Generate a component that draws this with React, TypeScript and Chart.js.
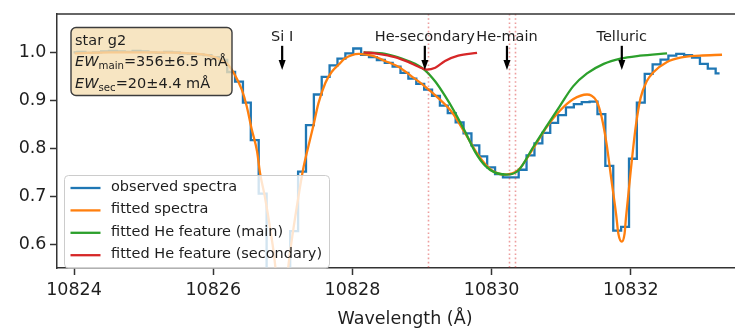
import React, { useEffect, useRef } from 'react';
import { Chart, registerables } from 'chart.js';
Chart.register(...registerables);

// ---------- data ----------
const obsWave = [
  10823.993, 10824.106, 10824.219, 10824.332, 10824.446, 10824.559, 10824.672, 10824.785, 10824.898, 10825.012,
  10825.125, 10825.238, 10825.351, 10825.464, 10825.578, 10825.691, 10825.804, 10825.917, 10826.030, 10826.144,
  10826.257, 10826.370, 10826.483, 10826.596, 10826.710, 10826.823, 10826.936, 10827.049, 10827.162, 10827.276,
  10827.389, 10827.502, 10827.615, 10827.728, 10827.842, 10827.955, 10828.068, 10828.181, 10828.294, 10828.408,
  10828.521, 10828.634, 10828.747, 10828.860, 10828.974, 10829.087, 10829.200, 10829.313, 10829.426, 10829.540,
  10829.653, 10829.766, 10829.879, 10829.992, 10830.106, 10830.219, 10830.332, 10830.445, 10830.558, 10830.672,
  10830.785, 10830.898, 10831.011, 10831.124, 10831.238, 10831.351, 10831.464, 10831.577, 10831.690, 10831.804,
  10831.917, 10832.030, 10832.143, 10832.256, 10832.370, 10832.483, 10832.596, 10832.709, 10832.822, 10832.936,
  10833.049, 10833.162, 10833.275,
];
const obsFlux = [
  1.000, 1.001, 0.999, 1.000, 1.002, 1.003, 1.002, 1.001, 1.003, 1.002,
  1.000, 0.999, 1.001, 1.000, 0.998, 0.997, 0.996, 0.994, 0.990, 0.984,
  0.959, 0.939, 0.895, 0.817, 0.705, 0.530, 0.420, 0.430, 0.627, 0.751,
  0.848, 0.912, 0.949, 0.973, 0.987, 0.998, 1.008, 0.995, 0.990, 0.984,
  0.978, 0.970, 0.957, 0.945, 0.934, 0.922, 0.909, 0.889, 0.873, 0.854,
  0.831, 0.806, 0.783, 0.760, 0.746, 0.739, 0.739, 0.755, 0.785, 0.810,
  0.832, 0.853, 0.869, 0.885, 0.892, 0.896, 0.897, 0.871, 0.763, 0.628,
  0.636, 0.778, 0.895, 0.955, 0.975, 0.985, 0.993, 0.997, 0.994, 0.989,
  0.976, 0.966, 0.956,
];

const fitWave = [
  10824.01, 10824.52, 10825.09, 10825.67, 10825.95, 10826.10, 10826.22, 10826.31, 10826.41, 10826.48,
  10826.55, 10826.63, 10826.67, 10826.74, 10826.82, 10826.89, 10826.93, 10826.98, 10827.03, 10827.08,
  10827.15, 10827.22, 10827.29, 10827.36, 10827.44, 10827.51, 10827.61, 10827.70, 10827.82, 10827.89,
  10828.09, 10828.28, 10828.47, 10828.66, 10828.85, 10829.04, 10829.23, 10829.43, 10829.62, 10829.81,
  10830.00, 10830.19, 10830.38, 10830.60, 10830.79, 10830.98, 10831.17, 10831.37, 10831.43, 10831.51,
  10831.58, 10831.65, 10831.72, 10831.79, 10831.82, 10831.87, 10831.91, 10831.93, 10832.00, 10832.07,
  10832.14, 10832.23, 10832.32, 10832.52, 10832.71, 10832.99, 10833.31,
];
const fitFlux = [
  0.998, 1.000, 1.000, 0.998, 0.993, 0.985, 0.973, 0.953, 0.922, 0.888,
  0.841, 0.793, 0.750, 0.700, 0.630, 0.555, 0.480, 0.430, 0.480, 0.555,
  0.630, 0.695, 0.755, 0.800, 0.848, 0.893, 0.936, 0.959, 0.977, 0.987,
  0.997, 0.993, 0.982, 0.970, 0.950, 0.929, 0.905, 0.875, 0.831, 0.785,
  0.754, 0.745, 0.754, 0.800, 0.844, 0.878, 0.902, 0.912, 0.910, 0.898,
  0.865, 0.810, 0.735, 0.660, 0.622, 0.605, 0.622, 0.655, 0.755, 0.845,
  0.905, 0.940, 0.958, 0.980, 0.989, 0.993, 0.995,
];

const heMainWave = [
  10828.16, 10828.47, 10828.71, 10828.90, 10829.04, 10829.19, 10829.33, 10829.47, 10829.62, 10829.76,
  10829.91, 10830.05, 10830.22, 10830.38, 10830.60, 10830.79, 10830.98, 10831.17, 10831.37, 10831.61,
  10831.85, 10832.13, 10832.52,
];
const heMainFlux = [
  1.000, 0.997, 0.987, 0.976, 0.963, 0.939, 0.909, 0.875, 0.834, 0.793,
  0.763, 0.749, 0.745, 0.753, 0.803, 0.846, 0.888, 0.929, 0.956, 0.976,
  0.987, 0.993, 0.998,
];

const heSecWave = [
  10828.16, 10828.37, 10828.61, 10828.80, 10828.95, 10829.07, 10829.19, 10829.33, 10829.52, 10829.79,
];
const heSecFlux = [
  1.000, 0.997, 0.990, 0.980, 0.970, 0.964, 0.968, 0.982, 0.993, 0.999,
];

const seriesLabels = [
  'observed spectra',
  'fitted spectra',
  'fitted He feature (main)',
  'fitted He feature (secondary)',
];

const xTicks = [10824, 10826, 10828, 10830, 10832];
const yTicks = [0.6, 0.7, 0.8, 0.9, 1.0];
const xLimits = [10823.755, 10833.755];
const yLimits = [0.55, 1.08];

const heLines = [10829.09, 10830.25, 10830.34];
const markerWaves = [10826.99, 10829.04, 10830.22, 10831.87];
const markerLabels = ['Si I', 'He-secondary', 'He-main', 'Telluric'];
const markerTop = 1.0136;
const markerBottom = 0.963;
const markerTextY = 1.0238;

const boxTitle = 'star g2';
const ewMainText = '=356±6.5 mÅ';
const ewSecText = '=20±4.4 mÅ';
const xTitle = 'Wavelength (Å)';

// ---------- styles ----------
const FONT = '"DejaVu Sans", "Liberation Sans", sans-serif';
const TXT = '#1e1e1e';
const SPINE = '#333333';
const COLORS = ['#1f77b4', '#ff7f0e', '#2ca02c', '#d62728'];
const LW = 2.3;

function pts(w: number[], f: number[]) {
  return w.map((v, i) => ({ x: v, y: f[i] }));
}

function rr(ctx: CanvasRenderingContext2D, x: number, y: number, w: number, h: number, r: number) {
  ctx.beginPath();
  ctx.moveTo(x + r, y);
  ctx.lineTo(x + w - r, y);
  ctx.arcTo(x + w, y, x + w, y + r, r);
  ctx.lineTo(x + w, y + h - r);
  ctx.arcTo(x + w, y + h, x + w - r, y + h, r);
  ctx.lineTo(x + r, y + h);
  ctx.arcTo(x, y + h, x, y + h - r, r);
  ctx.lineTo(x, y + r);
  ctx.arcTo(x, y, x + r, y, r);
  ctx.closePath();
}

const overlayPlugin = {
  id: 'overlay',
  afterDatasetsDraw(chart: any) {
    const { ctx, chartArea: ca, scales } = chart;
    const x = scales.x, y = scales.y;
    ctx.save();
    ctx.beginPath();
    ctx.rect(ca.left, ca.top, ca.right - ca.left, ca.bottom - ca.top);
    ctx.clip();
    // dotted He lines
    ctx.strokeStyle = 'rgba(214,39,40,0.45)';
    ctx.lineWidth = 1.6;
    ctx.setLineDash([1.6, 2.6]);
    heLines.forEach((w) => {
      const px = Math.round(x.getPixelForValue(w)) + 0.5;
      ctx.beginPath();
      ctx.moveTo(px, ca.top);
      ctx.lineTo(px, ca.bottom);
      ctx.stroke();
    });
    ctx.setLineDash([]);
    // arrows + labels
    markerWaves.forEach((w, i) => {
      const px = x.getPixelForValue(w);
      const yt = y.getPixelForValue(markerTop);
      const yb = y.getPixelForValue(markerBottom);
      ctx.strokeStyle = '#000';
      ctx.fillStyle = '#000';
      ctx.lineWidth = 2.2;
      ctx.beginPath();
      ctx.moveTo(px, yt);
      ctx.lineTo(px, yb - 8);
      ctx.stroke();
      ctx.beginPath();
      ctx.moveTo(px - 3.5, yb - 10);
      ctx.lineTo(px + 3.5, yb - 10);
      ctx.lineTo(px, yb);
      ctx.closePath();
      ctx.fill();
      ctx.font = `14.5px ${FONT}`;
      ctx.fillStyle = TXT;
      ctx.textAlign = 'center';
      ctx.textBaseline = 'alphabetic';
      ctx.fillText(markerLabels[i], px, y.getPixelForValue(markerTextY));
    });
    ctx.restore();
  },
  afterDraw(chart: any) {
    const { ctx, chartArea: ca } = chart;
    ctx.save();
    // top spine
    ctx.strokeStyle = SPINE;
    ctx.lineWidth = 1.5;
    ctx.beginPath();
    ctx.moveTo(ca.left, ca.top);
    ctx.lineTo(ca.right, ca.top);
    ctx.stroke();

    // text box
    const bx = ca.left + 14, by = ca.top + 13.5;
    rr(ctx, bx, by, 161, 68, 5);
    ctx.fillStyle = 'rgba(245,222,179,0.8)';
    ctx.fill();
    ctx.strokeStyle = '#3c3c3c';
    ctx.lineWidth = 1.4;
    ctx.stroke();
    ctx.fillStyle = TXT;
    ctx.textAlign = 'left';
    ctx.textBaseline = 'alphabetic';
    const tx = bx + 4;
    ctx.font = `14.5px ${FONT}`;
    ctx.fillText(boxTitle, tx, by + 17);
    const ewLine = (sub: string, rest: string, base: number) => {
      ctx.font = `italic 14.5px ${FONT}`;
      ctx.fillText('EW', tx, base);
      let cx = tx + ctx.measureText('EW').width;
      ctx.font = `10.2px ${FONT}`;
      ctx.fillText(sub, cx, base + 3);
      cx += ctx.measureText(sub).width;
      ctx.font = `14.5px ${FONT}`;
      ctx.fillText(rest, cx, base);
    };
    ewLine('main', ewMainText, by + 38.5);
    ewLine('sec', ewSecText, by + 60);

    // legend
    const lx = ca.left + 7.5, ly = ca.top + 161.5;
    rr(ctx, lx, ly, 265, 92.5, 4);
    ctx.fillStyle = 'rgba(255,255,255,0.8)';
    ctx.fill();
    ctx.strokeStyle = 'rgb(204,204,204)';
    ctx.lineWidth = 1;
    ctx.stroke();
    chart.data.datasets.forEach((ds: any, i: number) => {
      const yy = ly + 12.5 + i * 22.4;
      ctx.strokeStyle = ds.borderColor;
      ctx.lineWidth = LW;
      ctx.beginPath();
      ctx.moveTo(lx + 6, yy);
      ctx.lineTo(lx + 36, yy);
      ctx.stroke();
      ctx.fillStyle = TXT;
      ctx.font = `14.5px ${FONT}`;
      ctx.textBaseline = 'middle';
      ctx.fillText(ds.label, lx + 46.5, yy - 1);
    });
    ctx.restore();
  },
};

export default function App() {
  const ref = useRef<HTMLCanvasElement>(null);
  useEffect(() => {
    document.body.style.margin = '0';
    const tickFont = { family: FONT, size: 17.5 };
    const chart = new Chart(ref.current as HTMLCanvasElement, {
      type: 'line',
      data: {
        datasets: [
          { label: seriesLabels[0], data: pts(obsWave, obsFlux), borderColor: COLORS[0], borderWidth: LW, pointRadius: 0, stepped: 'middle', fill: false, order: 4 },
          { label: seriesLabels[1], data: pts(fitWave, fitFlux), borderColor: COLORS[1], borderWidth: LW, pointRadius: 0, cubicInterpolationMode: 'monotone', fill: false, order: 3 },
          { label: seriesLabels[2], data: pts(heMainWave, heMainFlux), borderColor: COLORS[2], borderWidth: LW, pointRadius: 0, cubicInterpolationMode: 'monotone', fill: false, order: 2 },
          { label: seriesLabels[3], data: pts(heSecWave, heSecFlux), borderColor: COLORS[3], borderWidth: LW, pointRadius: 0, cubicInterpolationMode: 'monotone', fill: false, order: 1 },
        ] as any,
      },
      options: {
        responsive: false,
        devicePixelRatio: 1,
        animation: false,
        layout: { padding: { top: 7, left: 0, right: 0, bottom: 0 } },
        plugins: { legend: { display: false }, tooltip: { enabled: false }, title: { display: false } },
        scales: {
          x: {
            type: 'linear',
            min: xLimits[0],
            max: xLimits[1],
            afterFit: (s: any) => { s.height = 63; },
            afterBuildTicks: (s: any) => { s.ticks = xTicks.map((v) => ({ value: v })); },
            ticks: { callback: (v: any) => String(v), font: tickFont, color: TXT, padding: 4.5, maxRotation: 0, autoSkip: false },
            grid: { display: true, drawOnChartArea: false, drawTicks: true, tickLength: 7, tickWidth: 1.5, tickColor: SPINE },
            border: { display: true, color: SPINE, width: 1.5 },
            title: { display: true, text: xTitle, font: tickFont, color: TXT, padding: { top: 0, bottom: 1 } },
          },
          y: {
            type: 'linear',
            min: yLimits[0],
            max: yLimits[1],
            afterFit: (s: any) => { s.width = 57; },
            afterBuildTicks: (s: any) => { s.ticks = yTicks.map((v) => ({ value: v })); },
            ticks: { callback: (v: any) => Number(v).toFixed(1), font: tickFont, color: TXT, padding: 3.5 },
            grid: { display: true, drawOnChartArea: false, drawTicks: true, tickLength: 7, tickWidth: 1.5, tickColor: SPINE },
            border: { display: true, color: SPINE, width: 1.5 },
          },
        },
      } as any,
      plugins: [overlayPlugin],
    });
    return () => chart.destroy();
  }, []);
  return (
    <div style={{ width: 735, height: 331, overflow: 'hidden' }}>
      <canvas ref={ref} width={753} height={331} style={{ display: 'block', width: 753, height: 331 }} />
    </div>
  );
}
